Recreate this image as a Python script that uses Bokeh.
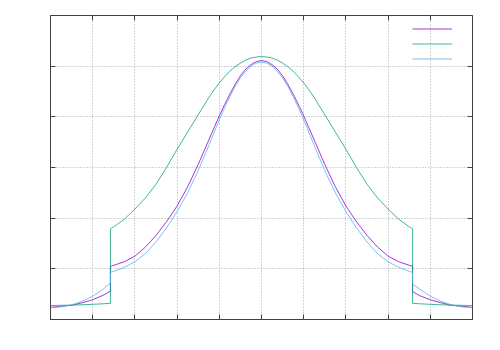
from bokeh.plotting import figure
from bokeh.models import LinearAxis, FixedTicker, Legend, LegendItem, Range1d, Grid
from bokeh.embed import file_html
from bokeh.resources import INLINE

# ---- data ----
x_vals = [-5, -4.75, -4.5, -4.25, -4, -3.75, -3.58,
          -3.58, -3.5, -3.25, -3, -2.75, -2.5, -2.25, -2, -1.75, -1.5, -1.25, -1.125, -1,
          -0.875, -0.75, -0.625, -0.5, -0.375, -0.25, -0.125,
          0,
          0.125, 0.25, 0.375, 0.5, 0.625, 0.75, 0.875, 1, 1.125, 1.25, 1.5, 1.75, 2, 2.25,
          2.5, 2.75, 3, 3.25, 3.5, 3.58,
          3.58, 3.75, 4, 4.25, 4.5, 4.75, 5]

purple = [0.24, 0.26, 0.28, 0.33, 0.39, 0.48, 0.56,
          1.05, 1.07, 1.14, 1.25, 1.43, 1.66, 1.93, 2.24, 2.62, 3.06, 3.54, 3.78, 4.02,
          4.24, 4.45, 4.64, 4.81, 4.94, 5.03, 5.09,
          5.11,
          5.09, 5.03, 4.94, 4.81, 4.64, 4.45, 4.24, 4.02, 3.78, 3.54, 3.06, 2.62, 2.24, 1.93,
          1.66, 1.43, 1.25, 1.14, 1.07, 1.05,
          0.55, 0.47, 0.39, 0.33, 0.28, 0.26, 0.24]

green = [0.275, 0.28, 0.285, 0.29, 0.30, 0.31, 0.32,
         1.79, 1.83, 1.98, 2.18, 2.40, 2.67, 3.00, 3.36, 3.70, 4.04, 4.38, 4.53, 4.67,
         4.79, 4.90, 4.99, 5.06, 5.12, 5.16, 5.18,
         5.19,
         5.18, 5.16, 5.12, 5.06, 4.99, 4.90, 4.79, 4.67, 4.53, 4.38, 4.04, 3.70, 3.36, 3.00,
         2.67, 2.40, 2.18, 1.98, 1.83, 1.79,
         0.32, 0.31, 0.30, 0.29, 0.285, 0.28, 0.275]

blue = [0.23, 0.25, 0.29, 0.36, 0.46, 0.60, 0.72,
        0.93, 0.95, 1.03, 1.14, 1.30, 1.53, 1.81, 2.13, 2.50, 2.94, 3.43, 3.69, 3.94,
        4.18, 4.40, 4.60, 4.77, 4.90, 5.00, 5.06,
        5.08,
        5.06, 5.00, 4.90, 4.77, 4.60, 4.40, 4.18, 3.94, 3.69, 3.43, 2.94, 2.50, 2.13, 1.81,
        1.53, 1.30, 1.14, 1.03, 0.95, 0.93,
        0.70, 0.60, 0.46, 0.36, 0.29, 0.25, 0.23]

x_ticks = [-5, -4, -3, -2, -1, 0, 1, 2, 3, 4, 5]
y_ticks = [0, 1, 2, 3, 4, 5, 6]

colors = ["#9400d3", "#009e73", "#56b4e9"]

p = figure(width=492, height=342, output_backend="svg", toolbar_location=None,
           x_range=Range1d(-5, 5), y_range=Range1d(0, 6),
           x_axis_location=None, y_axis_location=None,
           min_border_left=50, min_border_right=20, min_border_top=15, min_border_bottom=23)
p.outline_line_color = "#404040"
p.outline_line_width = 1
p.background_fill_color = "white"
p.border_fill_color = "white"


def make_axis(ticks):
    ax = LinearAxis(ticker=FixedTicker(ticks=ticks))
    ax.axis_line_color = None
    ax.major_tick_in = 5
    ax.major_tick_out = 0
    ax.major_tick_line_color = "#404040"
    ax.minor_tick_line_color = None
    ax.major_label_text_font_size = "0px"
    ax.major_label_text_color = None
    ax.major_label_standoff = 0
    return ax


p.add_layout(make_axis(x_ticks), "below")
p.add_layout(make_axis(x_ticks), "above")
p.add_layout(make_axis(y_ticks), "left")
p.add_layout(make_axis(y_ticks), "right")

p.xgrid.visible = False
p.ygrid.visible = False
gx = Grid(dimension=0, ticker=FixedTicker(ticks=x_ticks), grid_line_color="#a8a8a8",
          grid_line_dash="1 2", grid_line_width=1)
gy = Grid(dimension=1, ticker=FixedTicker(ticks=y_ticks), grid_line_color="#a8a8a8",
          grid_line_dash="1 2", grid_line_width=1)
p.add_layout(gx)
p.add_layout(gy)

r1 = p.line(x_vals, purple, line_color=colors[0], line_width=1, line_alpha=0.8)
r2 = p.line(x_vals, green, line_color=colors[1], line_width=1, line_alpha=0.75)
r3 = p.line(x_vals, blue, line_color=colors[2], line_width=1, line_alpha=0.8)

legend = Legend(items=[LegendItem(label=" ", renderers=[r1]),
                       LegendItem(label=" ", renderers=[r2]),
                       LegendItem(label=" ", renderers=[r3])],
                location="top_right")
legend.glyph_width = 40
legend.glyph_height = 15
legend.label_height = 15
legend.label_width = 0
legend.label_text_font_size = "1px"
legend.label_standoff = 14
legend.padding = 4
legend.margin = 6
legend.spacing = 0
legend.border_line_color = None
legend.background_fill_alpha = 0
p.add_layout(legend, "center")

open("out.html", "w").write(file_html(p, INLINE))
